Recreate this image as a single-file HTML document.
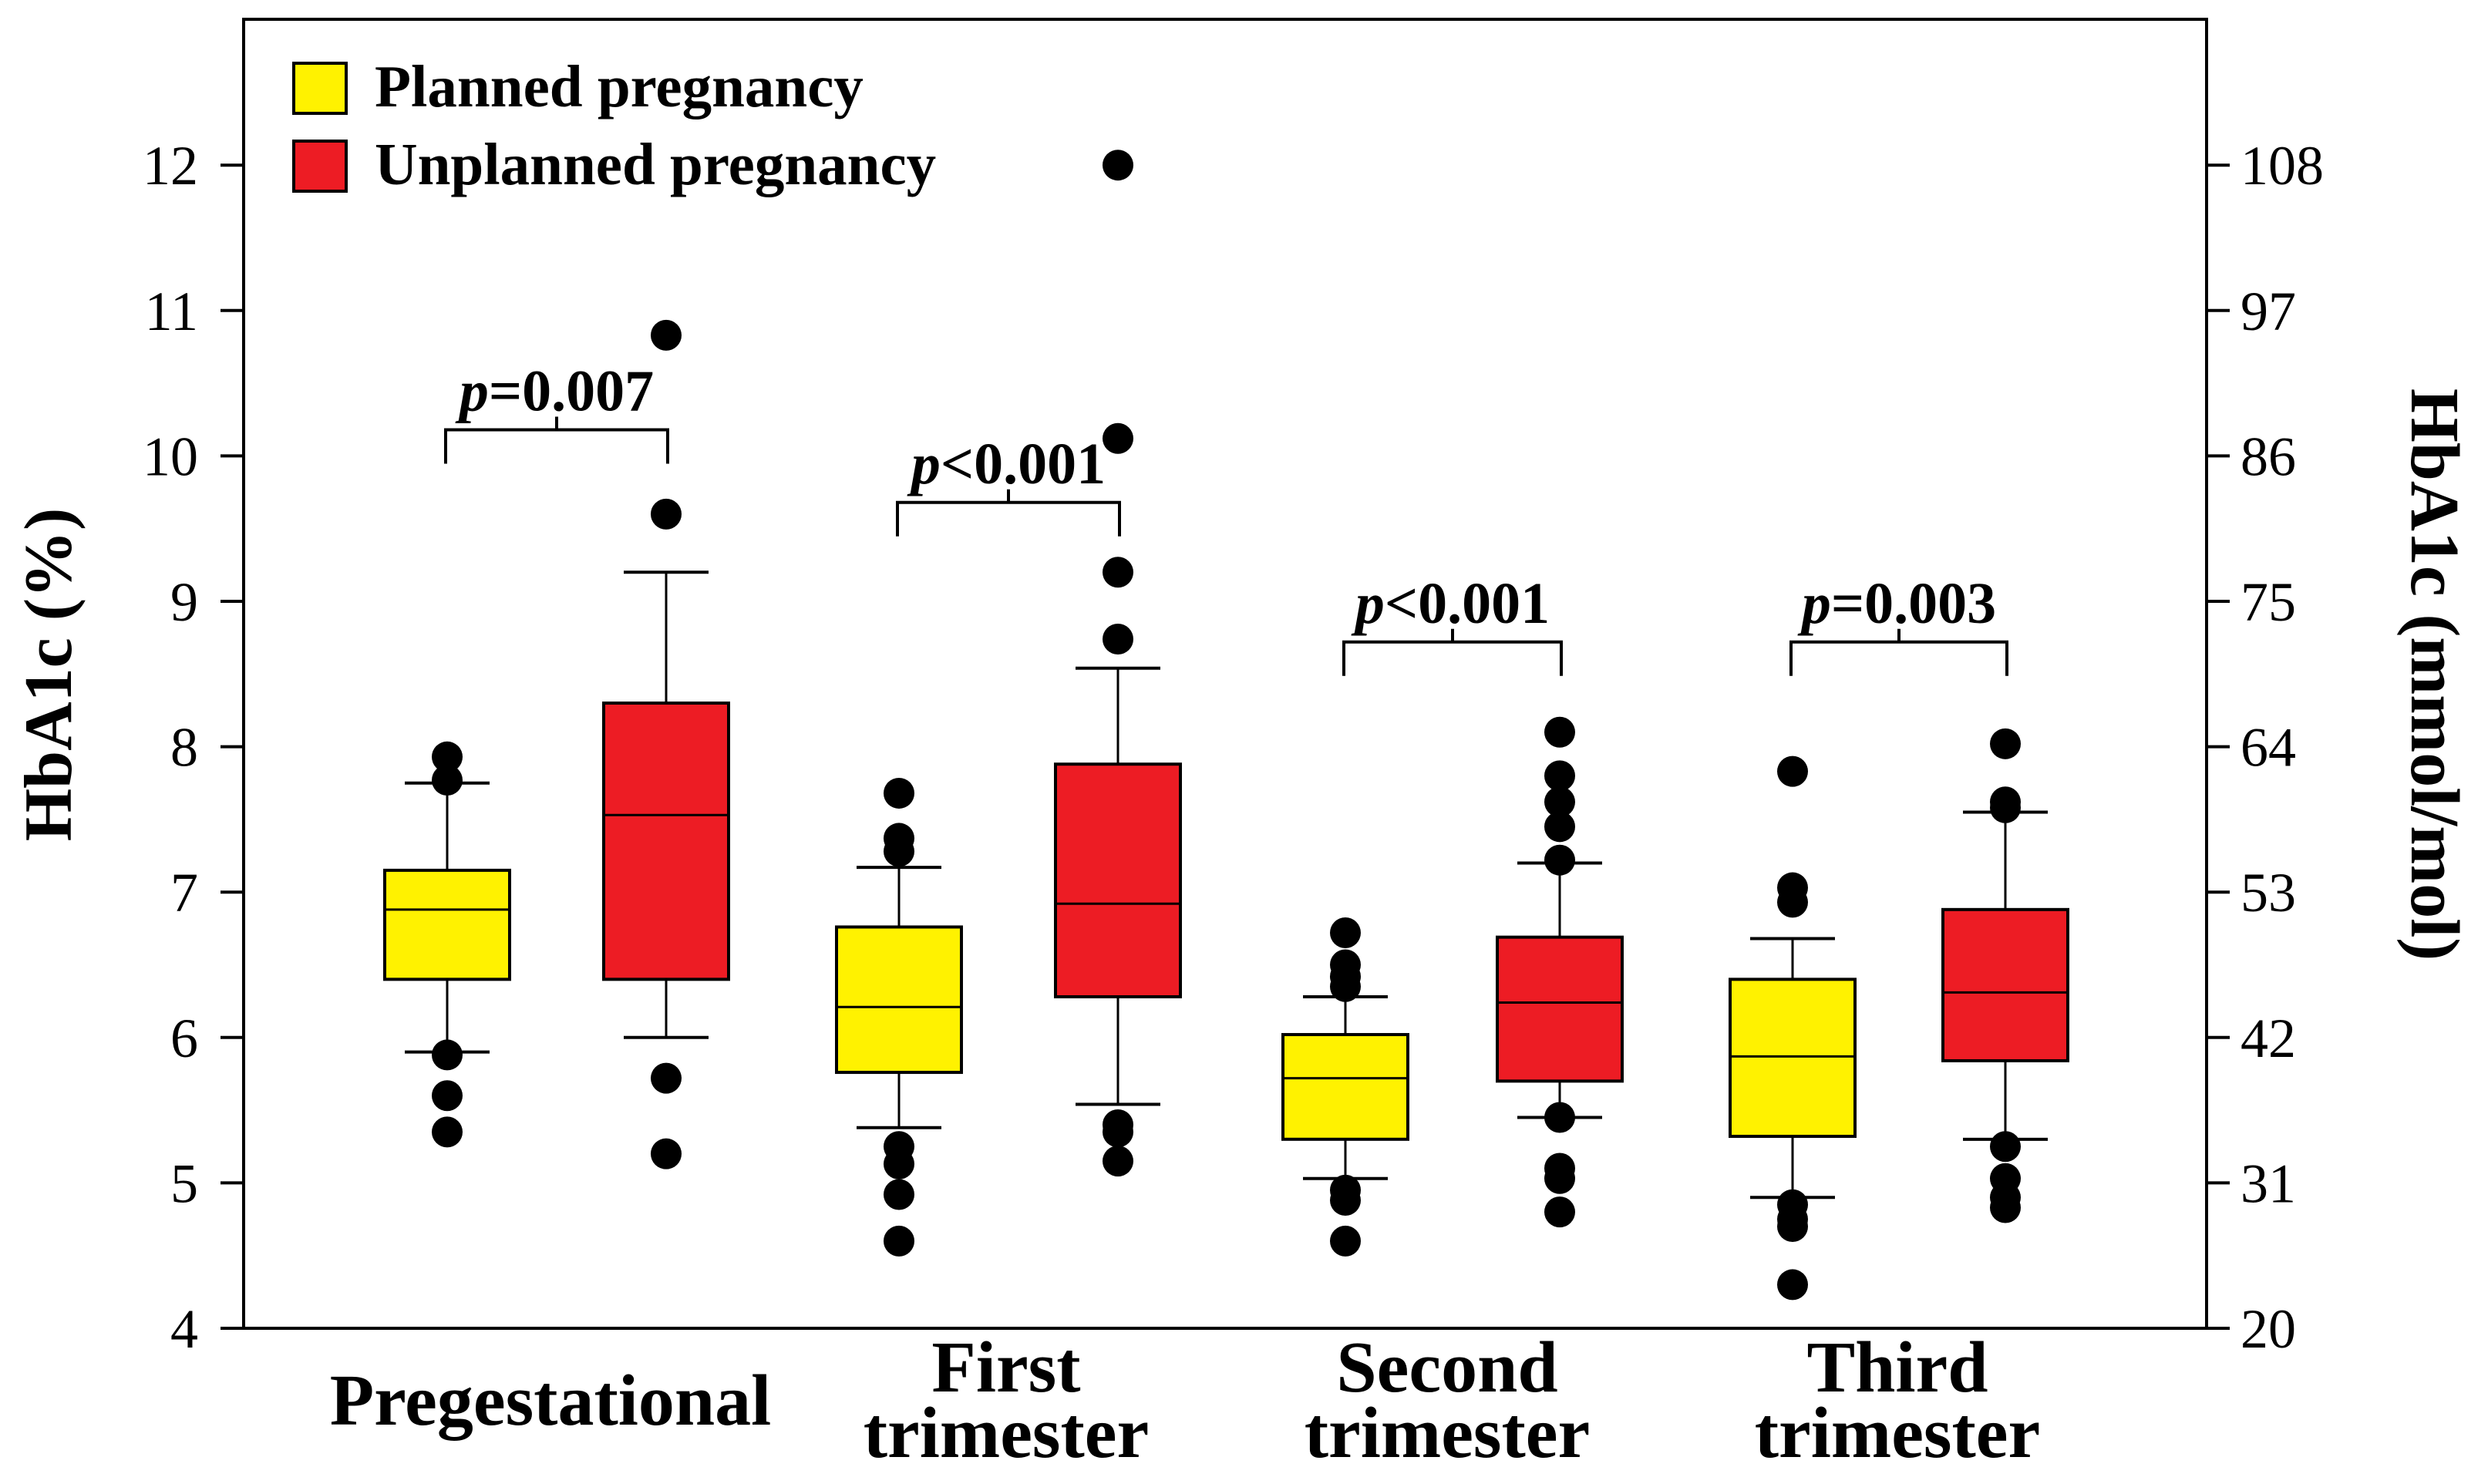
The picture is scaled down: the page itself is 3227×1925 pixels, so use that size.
<!DOCTYPE html>
<html><head><meta charset="utf-8"><style>
html,body{margin:0;padding:0;background:#fff;}
svg{display:block;font-family:"Liberation Serif",serif;}
</style></head><body>
<svg id="chart" width="3227" height="1925" viewBox="0 0 3227 1925" xmlns="http://www.w3.org/2000/svg">
<rect x="0" y="0" width="3227" height="1925" fill="#fff"/>
<g id="plot"></g>
</svg>
<script>
const groups = ["Pregestational","First trimester","Second trimester","Third trimester"];
const seriesNames = ["Planned pregnancy","Unplanned pregnancy"];
const seriesColors = ["#fff200","#ed1c24"];
// [whiskerLow, Q1, median, Q3, whiskerHigh] per group
const plannedStats = [[5.9,6.4,6.88,7.15,7.75],[5.38,5.76,6.21,6.76,7.17],[5.03,5.3,5.72,6.02,6.28],[4.9,5.32,5.87,6.4,6.68]];
const unplannedStats = [[6.0,6.4,7.53,8.3,9.2],[5.54,6.28,6.92,7.88,8.54],[5.45,5.7,6.24,6.69,7.2],[5.3,5.84,6.31,6.88,7.55]];
const plannedOutliers = [[7.93,7.77,5.88,5.6,5.35],[7.68,7.37,7.28,5.25,5.13,4.92,4.6],[6.72,6.5,6.42,6.35,4.95,4.88,4.6],[7.83,7.03,6.93,4.85,4.75,4.7,4.3]];
const unplannedOutliers = [[10.83,9.6,5.72,5.2],[12.0,10.12,9.2,8.74,5.4,5.35,5.15],[8.1,7.8,7.62,7.45,7.22,5.45,5.1,5.03,4.8],[8.02,7.62,7.58,5.25,5.03,4.9,4.83]];
const pLabels = ["=0.007","<0.001","<0.001","=0.003"];
const bracketLevels = [10.18,9.68,8.72,8.72];
const leftTicks = [4,5,6,7,8,9,10,11,12];
const rightTickLabels = ["20","31","42","53","64","75","86","97","108"];

const NS="http://www.w3.org/2000/svg";
const g=document.getElementById('plot');
const L=316,R=2862,T=25,B=1723;
function y(v){return B-(v-4)*188.6;}
const centers=[[580,864],[1166,1450],[1745,2023],[2325,2601]];
function xc(gi,si){return centers[gi][si];}
function el(tag,attrs,parent){const e=document.createElementNS(NS,tag);for(const k in attrs)e.setAttribute(k,attrs[k]);(parent||g).appendChild(e);return e;}

let fr=el('rect',{x:L,y:T,width:R-L,height:B-T,fill:'none',stroke:'#000','stroke-width':4});



leftTicks.forEach((v,i)=>{
  const yy=y(v);
  let t=el('line',{x1:L-30,x2:L,y1:yy,y2:yy,stroke:'#000','stroke-width':4});
  
  
  let lb=el('text',{x:257,y:yy+25,'text-anchor':'end','font-size':72});
  lb.textContent=v;
  
  
  let t2=el('line',{x1:R,x2:R+30,y1:yy,y2:yy,stroke:'#000','stroke-width':4});
  
  
  let lb2=el('text',{x:2906,y:yy+25,'text-anchor':'start','font-size':72});
  lb2.textContent=rightTickLabels[i];
  
  
});

const W=162,cap=110,rad=20;
[plannedStats,unplannedStats].forEach((stats,si)=>{
  stats.forEach((s,gi)=>{
    const cx=xc(gi,si);
    const gg=el('g',{});
    
    
    el('line',{x1:cx,x2:cx,y1:y(s[0]),y2:y(s[4]),stroke:'#000','stroke-width':3},gg);
    el('line',{x1:cx-cap/2,x2:cx+cap/2,y1:y(s[0]),y2:y(s[0]),stroke:'#000','stroke-width':4},gg);
    el('line',{x1:cx-cap/2,x2:cx+cap/2,y1:y(s[4]),y2:y(s[4]),stroke:'#000','stroke-width':4},gg);
    const b=el('rect',{x:cx-W/2,y:y(s[3]),width:W,height:y(s[1])-y(s[3]),fill:seriesColors[si],stroke:'#000','stroke-width':4},gg);
    
    
    el('line',{x1:cx-W/2,x2:cx+W/2,y1:y(s[2]),y2:y(s[2]),stroke:'#000','stroke-width':3},gg);
  });
});
[plannedOutliers,unplannedOutliers].forEach((outs,si)=>{
  outs.forEach((arr,gi)=>{
    arr.forEach(v=>{
      const c=el('circle',{cx:xc(gi,si),cy:y(v),r:rad,fill:'#000'});
      
      
    });
  });
});

pLabels.forEach((p,gi)=>{
  const x1=xc(gi,0)-2,x2=xc(gi,1)+2,top=y(bracketLevels[gi]),leg=top+44,mid=(x1+x2)/2;
  const pth=el('path',{d:`M${x1},${leg} V${top} H${x2} V${leg} M${mid},${top} V${top-17}`,fill:'none',stroke:'#000','stroke-width':4});
  
  
  const t=el('text',{x:mid,y:top-25,'text-anchor':'middle','font-size':76,'font-weight':'bold'});
  t.innerHTML='<tspan font-style="italic">p</tspan>'+p.replace('<','&lt;');
  
  
});

seriesNames.forEach((n,i)=>{
  const yy=[82,183][i];
  const r=el('rect',{x:381,y:yy,width:68,height:65,fill:seriesColors[i],stroke:'#000','stroke-width':4});
  
  
  const t=el('text',{x:486,y:yy+56,'font-size':77,'font-weight':'bold'});
  t.textContent=n;
  
  
});

const xl=[[714,[1848],["Pregestational"]],[1305,[1805,1890],["First","trimester"]],[1877,[1805,1890],["Second","trimester"]],[2461,[1805,1890],["Third","trimester"]]];
xl.forEach(a=>{
  a[2].forEach((s,k)=>{
    const t=el('text',{x:a[0],y:a[1][k],'text-anchor':'middle','font-size':94,'font-weight':'bold'});
    t.textContent=s;
    
    
  });
});

let yt=el('text',{x:0,y:0,'text-anchor':'middle','font-size':88,'font-weight':'bold',transform:'translate(92,875) rotate(-90)'});
yt.textContent='HbA1c (%)';


let yt2=el('text',{x:0,y:0,'text-anchor':'middle','font-size':90,'font-weight':'bold',transform:'translate(3128,875) rotate(90)'});
yt2.textContent='HbA1c (mmol/mol)';


</script>
</body></html>
